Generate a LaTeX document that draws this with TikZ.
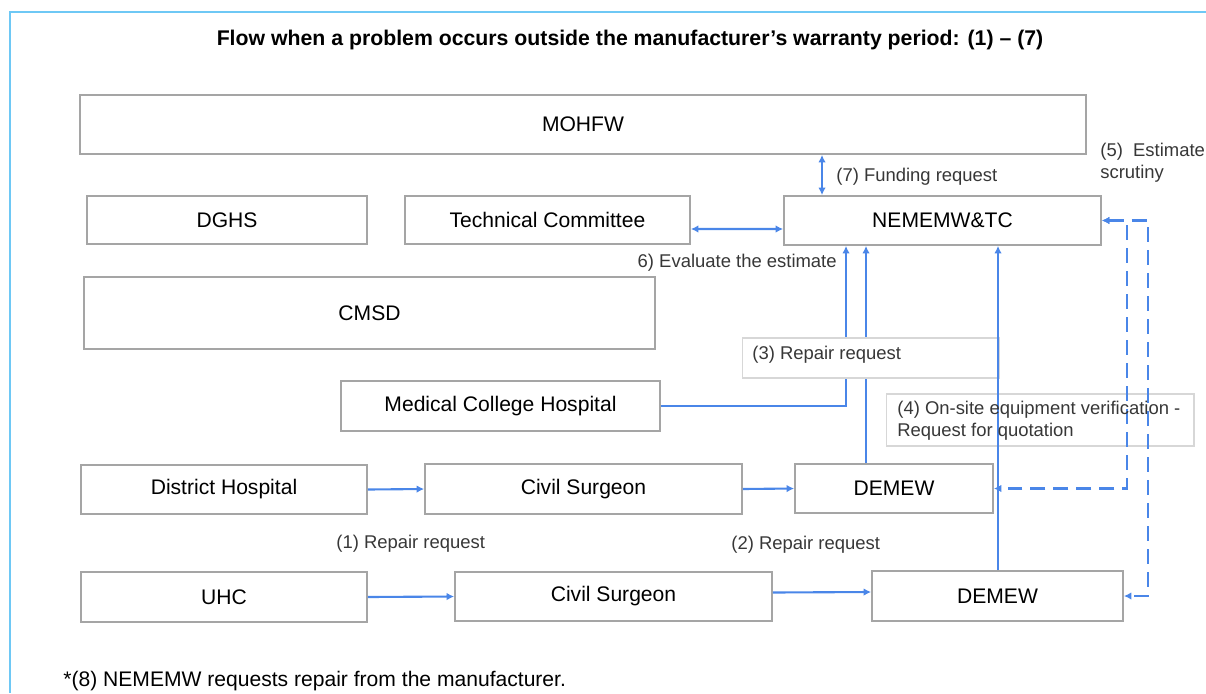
\documentclass[tikz,border=0pt]{standalone}
\usepackage{fontspec}
\setmainfont{Liberation Sans}
\usetikzlibrary{arrows.meta,positioning,calc}
\definecolor{flowblue}{RGB}{74,134,232}
\definecolor{boxgray}{RGB}{165,165,165}
\definecolor{tagline}{RGB}{215,215,215}
\definecolor{framecyan}{RGB}{110,200,245}
\definecolor{labeltext}{RGB}{55,55,55}
\tikzset{
  box/.style={draw=boxgray, fill=white, line width=1pt, inner sep=0pt, font=\fontsize{12}{14}\selectfont},
  tag/.style={draw=tagline, line width=0.6pt, inner sep=0pt},
  lbl/.style={font=\fontsize{10.5}{12.5}\selectfont, text=labeltext, inner sep=0pt, align=left},
  flow/.style={draw=flowblue, line width=1.2pt, -{Latex[length=1.5mm,width=1.5mm]}},
  twoway/.style={flow, {Latex[length=1.5mm,width=1.5mm]}-{Latex[length=1.5mm,width=1.5mm]}},
}

\begin{document}
\begin{tikzpicture}[x=0.02cm,y=-0.02cm]
    \useasboundingbox (0,0) rectangle (1206,693);
    \draw[framecyan, line width=1pt] (1206,12) -- (10,12) -- (10,693);

    \node[font=\bfseries\fontsize{12.1}{14}\selectfont] (title) at (630,40) {Flow when a problem occurs outside the manufacturer's warranty period: (1) -- (7)};

    % quotation tag sits under the lines
    \node[tag, minimum width=6.16cm, minimum height=1.04cm] (tag4) at (1040,420) {};

    \node[box, minimum width=20.12cm, minimum height=1.18cm] (mohfw) at (583,124.5) {MOHFW};
    \node[box, minimum width=5.6cm, minimum height=0.96cm] (dghs) at (227,220) {DGHS};
    \node[box, minimum width=5.7cm, minimum height=0.96cm] (techcom) at (547.5,220) {Technical Committee};
    \node[box, minimum width=6.34cm, minimum height=0.98cm] (nememw) at (942.5,220.5) {NEMEMW\&TC};
    \node[box, minimum width=11.42cm, minimum height=1.44cm] (cmsd) at (369.5,313) {CMSD};
    \node[box, minimum width=6.38cm, minimum height=1cm] (mch) at (500.5,406) {Medical College Hospital};
    \node[box, minimum width=5.72cm, minimum height=0.98cm] (disthosp) at (224,489.5) {District Hospital};
    \node[box, minimum width=6.34cm, minimum height=1cm] (civsurgA) at (583.5,489) {Civil Surgeon};
    \node[box, minimum width=3.96cm, minimum height=0.98cm] (demewA) at (894,488.5) {DEMEW};
    \node[box, minimum width=5.72cm, minimum height=1cm] (uhc) at (224,597) {UHC};
    \node[box, minimum width=6.34cm, minimum height=0.98cm] (civsurgB) at (613.5,596.5) {Civil Surgeon};
    \node[box, minimum width=5.02cm, minimum height=1cm] (demewB) at (997.5,596) {DEMEW};

    \coordinate (xfund) at (822,0);
    \coordinate (xmch) at (846,0);
    \coordinate (xdemA) at (866,0);
    \coordinate (xdemB) at (998,0);
    \coordinate (xscrA) at (1127,0);
    \coordinate (xscrB) at (1148,0);

    \draw[twoway] (mohfw.south -| xfund) -- (nememw.north -| xfund);
    \draw[twoway] ($(techcom.east)+(0,9)$) -- ($(nememw.west)+(0,8.5)$);
    \draw[flow] (mch.east) -- (mch.east -| xmch) -- (nememw.south -| xmch);
    \draw[flow] (demewA.north -| xdemA) -- (nememw.south -| xdemA);
    \draw[flow] (disthosp.east) -- (civsurgA.west);
    \draw[flow] (civsurgA.east) -- (demewA.west);
    \draw[flow] (uhc.east) -- (civsurgB.west);
    \draw[flow] ($(civsurgB.east)+(0,-4)$) -- ($(demewB.west)+(0,-4)$);
    \draw[twoway, dash pattern=on 3mm off 1.6mm] (nememw.east) -- (nememw.east -| xscrA) -- (demewA.east -| xscrA) -- (demewA.east);
    \draw[twoway, dash pattern=on 3mm off 1.6mm] (nememw.east) -- (nememw.east -| xscrB) -- (demewB.east -| xscrB) -- (demewB.east);

    % repair request tag covers the two lines
    \node[tag, fill=white, minimum width=5.14cm, minimum height=0.8cm] (tag3) at (870.5,358) {};
    \draw[flow] (demewB.north -| xdemB) -- (nememw.south -| xdemB);

    \node[lbl, anchor=west] (lab7) at (836,177) {(7) Funding request};
    \node[lbl, anchor=north west] (lab5) at (1100,143) {(5)~~Estimate\\scrutiny};
    \node[lbl, anchor=east] (lab6) at (837,263) {6) Evaluate the estimate};
    \node[lbl, anchor=west] (lab3) at (752,355) {(3) Repair request};
    \node[lbl, anchor=north west] (lab4) at (897,401) {(4) On-site equipment verification -\\Request for quotation};
    \node[lbl, anchor=west] (lab1) at (336,544) {(1) Repair request};
    \node[lbl, anchor=west] (lab2) at (731,545) {(2) Repair request};
    \node[font=\fontsize{12}{14}\selectfont, inner sep=0pt, anchor=west] (note) at (63,681) {*(8) NEMEMW requests repair from the manufacturer.};
\end{tikzpicture}
\end{document}
